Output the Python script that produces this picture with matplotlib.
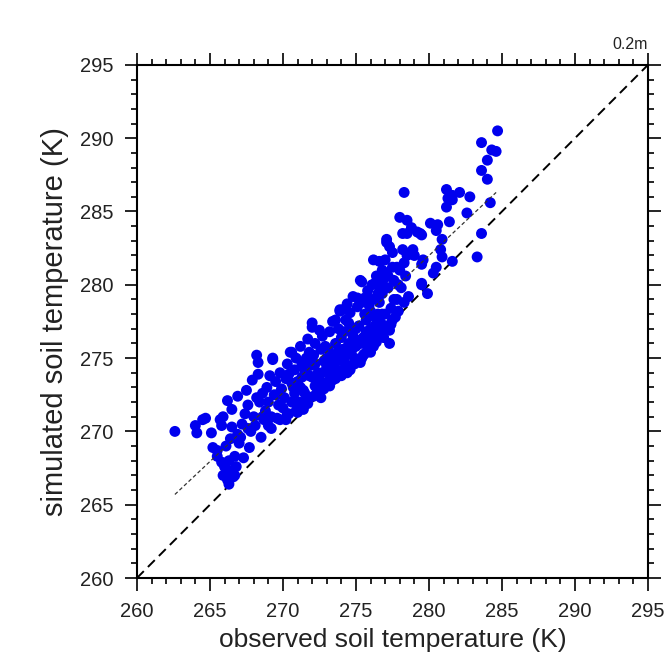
import numpy as np
import matplotlib
matplotlib.use("Agg")
import matplotlib.pyplot as plt
from matplotlib.ticker import MultipleLocator

plt.rcParams['font.family'] = ['Liberation Sans', 'DejaVu Sans']

# observed / simulated soil temperature at 0.2 m (K)
points = [
    (262.6, 270.0), (264.0, 270.4), (264.1, 269.9), (264.5, 270.8), (264.7, 270.9),
    (265.1, 269.9), (265.7, 270.8), (265.8, 270.4), (265.2, 268.9), (265.5, 268.7),
    (265.5, 268.3), (265.8, 267.9), (266.0, 267.6), (265.9, 267.0), (266.2, 266.7),
    (266.8, 267.6), (266.7, 268.3), (265.9, 271.0), (266.2, 272.1), (266.4, 269.5),
    (266.1, 269.0), (266.5, 271.5), (266.3, 268.0), (266.6, 266.9), (266.9, 269.8),
    (266.5, 270.3),
    (266.9, 272.4), (267.5, 272.8), (267.7, 268.9), (267.2, 270.5), (267.4, 271.2),
    (267.0, 269.2), (267.8, 270.0), (267.6, 271.8), (267.3, 268.2), (267.9, 273.5),
    (268.3, 273.9), (268.2, 275.2), (268.3, 274.7), (268.0, 271.0), (268.4, 272.0),
    (268.1, 270.4), (268.6, 272.6), (268.8, 271.4), (268.5, 269.6), (268.9, 273.0),
    (268.7, 270.8), (268.2, 272.3),
    (269.3, 274.9), (269.3, 275.0), (269.0, 272.0), (269.2, 271.0), (269.5, 273.4),
    (269.4, 272.5), (269.7, 271.8), (269.1, 273.8), (269.8, 274.0), (269.6, 270.9),
    (269.9, 272.9), (270.0, 271.6), (270.2, 273.6), (270.5, 275.4), (270.6, 275.4),
    (270.3, 274.6), (270.1, 272.3), (270.4, 271.2), (270.7, 273.0), (270.8, 274.2),
    (270.6, 272.0), (270.9, 271.4), (270.2, 270.8),
    (271.2, 275.8), (271.0, 273.4), (271.3, 274.6), (271.5, 272.6), (271.1, 272.0),
    (271.6, 275.0), (271.8, 273.8), (271.4, 271.5), (271.7, 276.3), (271.9, 274.5),
    (271.2, 273.0), (271.6, 272.2), (272.0, 277.4), (272.0, 277.1), (272.3, 273.0),
    (272.1, 275.2), (272.4, 274.0), (272.2, 276.0), (272.6, 275.6), (272.5, 273.5),
    (272.8, 274.8), (272.7, 276.5), (272.9, 273.2), (272.4, 272.6), (272.6, 272.3),
    (272.9, 275.8),
    (273.4, 277.5), (273.4, 273.5), (273.0, 274.4), (273.2, 276.8), (273.5, 275.2),
    (273.1, 275.6), (273.7, 274.2), (273.6, 276.0), (273.3, 273.8), (273.8, 277.0),
    (273.9, 278.2), (273.9, 278.3), (273.8, 275.5), (273.5, 274.7), (274.0, 276.4),
    (274.1, 278.3), (274.4, 274.0), (274.2, 275.0), (274.3, 277.6), (274.5, 276.0),
    (274.6, 275.3), (274.7, 277.0), (274.8, 279.2), (274.4, 278.7), (274.9, 274.6),
    (274.6, 274.2), (274.2, 276.8), (274.8, 276.5), (274.0, 273.8),
    (275.1, 279.1), (275.3, 280.3), (275.4, 280.2), (275.3, 274.7), (275.0, 275.8),
    (275.2, 277.2), (275.5, 276.4), (275.6, 278.0), (275.4, 275.0), (275.7, 277.6),
    (275.8, 279.6), (275.9, 276.0), (275.1, 278.5), (275.6, 275.3), (275.8, 275.6),
    (275.2, 276.2), (275.9, 278.6), (276.0, 277.0), (276.2, 281.7), (276.3, 280.1),
    (276.1, 279.0), (276.4, 276.6), (276.5, 278.0), (276.6, 281.6), (276.2, 275.8),
    (276.7, 277.4), (276.8, 279.4), (276.4, 280.6), (276.9, 276.4), (276.6, 278.8),
    (276.3, 277.8), (276.0, 275.4),
    (277.1, 282.9), (277.1, 280.8), (277.3, 276.0), (277.3, 276.9), (277.5, 282.2),
    (277.8, 281.2), (277.2, 279.8), (277.4, 278.4), (277.0, 281.7), (277.6, 279.0),
    (277.7, 277.8), (277.9, 280.0), (277.5, 281.2), (277.1, 283.1), (277.3, 282.6),
    (276.8, 281.0), (277.0, 278.0), (278.5, 283.5), (278.7, 282.2), (278.2, 282.4),
    (278.5, 282.0), (278.3, 286.3), (278.0, 284.6), (278.5, 284.4), (278.8, 283.9),
    (278.2, 283.5), (278.9, 282.4), (278.1, 279.8), (278.4, 280.6), (278.6, 279.2),
    (278.0, 281.0),
    (279.4, 283.5), (279.2, 283.6), (279.5, 283.4), (279.0, 282.0), (279.5, 280.0),
    (279.6, 281.7), (279.5, 281.4), (279.9, 279.4), (279.5, 280.1), (280.1, 284.2),
    (280.6, 284.1), (280.5, 283.7), (280.9, 283.1), (280.8, 282.4), (280.9, 281.9),
    (280.5, 281.2), (280.3, 280.8), (281.4, 284.3), (281.6, 285.8), (281.2, 285.3),
    (281.6, 281.6), (281.2, 286.5), (281.6, 286.1), (282.1, 286.3), (282.8, 286.0),
    (281.3, 285.9), (282.6, 284.9), (283.3, 281.9), (283.6, 283.5), (284.2, 285.6),
    (284.7, 290.5), (283.6, 289.7), (284.3, 289.2), (284.6, 289.1), (284.0, 288.5),
    (283.6, 287.8), (284.0, 287.2),
    (270.4, 273.9), (270.9, 275.0), (271.3, 273.7), (271.8, 275.4), (272.2, 274.6),
    (272.5, 276.9), (273.0, 275.0), (273.2, 274.0), (273.6, 277.6), (274.1, 275.6),
    (274.3, 274.6), (274.5, 277.4), (274.9, 276.0), (275.0, 277.0), (275.4, 278.8),
    (275.7, 276.8), (276.1, 280.0), (276.5, 279.4), (276.9, 280.4), (276.2, 276.6),
    (275.3, 276.0), (274.7, 275.5), (273.9, 274.9), (273.1, 273.4), (272.7, 274.0),
    (272.0, 273.7), (271.5, 274.2), (270.6, 273.3), (269.6, 272.5), (269.0, 270.4),
    (268.6, 271.0), (267.6, 270.2), (267.1, 269.6), (266.3, 266.4), (266.4, 267.3),
    (266.7, 267.0), (277.4, 277.3), (277.8, 279.0), (278.3, 281.5), (277.6, 280.3),
    # lower edge of the band, close to the 1:1 line
    (271.0, 271.3), (271.7, 271.9), (272.1, 272.4), (272.8, 272.9), (273.2, 273.1),
    (273.6, 273.6), (274.1, 274.2), (274.5, 274.4), (275.0, 274.9), (275.5, 275.2),
    (275.9, 275.7), (276.4, 276.1), (276.7, 276.8), (277.1, 277.2), (277.5, 277.6),
    (277.9, 278.2), (278.3, 278.8), (270.3, 271.2), (269.8, 270.8), (269.2, 270.2),
    (275.7, 276.2), (276.3, 277.2), (276.8, 278.0), (274.9, 275.0), (274.3, 275.2),
    (273.5, 274.4), (272.7, 273.2), (272.2, 273.1), (271.4, 272.8), (270.8, 272.6),
    (276.0, 278.2), (276.6, 279.9), (277.2, 280.6), (275.6, 279.1), (274.6, 278.1),
]
obs = np.array([p[0] for p in points])
sim = np.array([p[1] for p in points])

# regression line end points as drawn in the reference
fit_x = [262.6, 284.6]
fit_y = [265.7, 286.3]

lims = [260, 295]

fig = plt.figure(figsize=(6.68, 6.69), dpi=100)
ax = fig.add_axes([0.205, 0.136, 0.765, 0.767])

ax.plot(lims, lims, color='black', lw=1.4, dashes=(5, 3), zorder=1)
ax.scatter(obs, sim, s=62, color='#0000ee', edgecolors='none', zorder=2)
ax.plot(fit_x, fit_y, color='#333333', lw=0.9, dashes=(3, 2), zorder=3)

ax.set_xlim(lims)
ax.set_ylim(lims)
ax.xaxis.set_major_locator(MultipleLocator(5))
ax.yaxis.set_major_locator(MultipleLocator(5))
ax.xaxis.set_minor_locator(MultipleLocator(1))
ax.yaxis.set_minor_locator(MultipleLocator(1))
ax.tick_params(which='both', direction='out', top=True, right=True,
               width=1.2, labelsize=14.5, colors='black', labelcolor='#222222')
ax.tick_params(which='major', length=9, pad=8)
ax.tick_params(which='minor', length=4.5)
for sp in ax.spines.values():
    sp.set_linewidth(1.5)

ax.set_xlabel('observed soil temperature (K)', fontsize=19, labelpad=5,
              color='#222222')
ax.set_ylabel('simulated soil temperature (K)', fontsize=21, labelpad=8,
              color='#222222')
ax.text(1.0, 1.025, '0.2m', transform=ax.transAxes, ha='right', va='bottom',
        fontsize=11.5, color='#222222')

fig.savefig('out.png', dpi=100)
